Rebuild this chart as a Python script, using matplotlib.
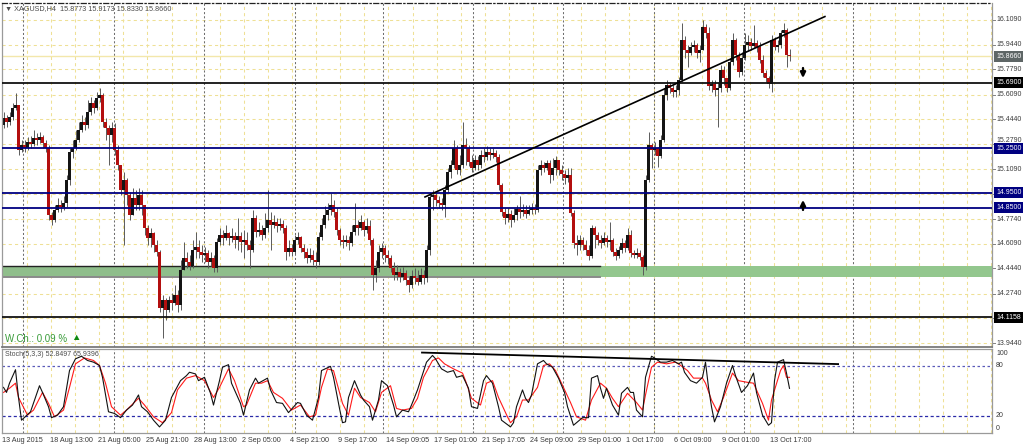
import matplotlib
matplotlib.use("Agg")
import matplotlib.pyplot as plt
from matplotlib.transforms import blended_transform_factory as blend

plt.rcParams['font.family'] = ['Liberation Sans', 'DejaVu Sans']

# ---------------- data ----------------
title_text = "\u25bc XAGUSD,H4  15.8773 15.9173 15.8330 15.8660"
stoch_text = "Stoch(5,3,3) 52.8497 65.9396"
wch_text = "W.Ch.: 0.09 %"

first_open = 15.405
closes = [
    15.452, 15.425, 15.459, 15.519, 15.539, 15.238, 15.271, 15.251, 15.291, 15.278,
    15.318, 15.305, 15.325, 15.285, 15.251, 14.802, 14.769, 14.836, 14.869, 14.856,
    14.882, 15.037, 15.224, 15.251, 15.305, 15.372, 15.425, 15.405, 15.492, 15.553,
    15.519, 15.586, 15.606, 15.425, 15.385, 15.338, 15.385, 15.238, 15.137, 14.970,
    15.037, 14.936, 14.802, 14.916, 14.869, 14.936, 14.869, 14.715, 14.648, 14.681,
    14.601, 14.554, 14.179, 14.232, 14.165, 14.232, 14.212, 14.266, 14.199, 14.434,
    14.514, 14.487, 14.460, 14.568, 14.588, 14.554, 14.534, 14.547, 14.487, 14.514,
    14.447, 14.621, 14.668, 14.648, 14.681, 14.648, 14.661, 14.635, 14.661, 14.621,
    14.635, 14.601, 14.568, 14.782, 14.688, 14.702, 14.668, 14.715, 14.769, 14.735,
    14.755, 14.728, 14.742, 14.715, 14.554, 14.581, 14.554, 14.635, 14.655, 14.581,
    14.554, 14.514, 14.534, 14.501, 14.487, 14.655, 14.735, 14.802, 14.836, 14.869,
    14.822, 14.702, 14.635, 14.621, 14.635, 14.614, 14.688, 14.735, 14.715, 14.755,
    14.702, 14.728, 14.635, 14.400, 14.447, 14.554, 14.581, 14.534, 14.514, 14.447,
    14.400, 14.420, 14.387, 14.413, 14.366, 14.333, 14.393, 14.380, 14.353, 14.400,
    14.380, 14.568, 14.923, 14.936, 14.903, 14.882, 14.869, 14.970, 15.090, 15.137,
    15.251, 15.104, 15.137, 15.271, 15.251, 15.157, 15.117, 15.171, 15.137, 15.204,
    15.191, 15.224, 15.204, 15.218, 15.191, 15.003, 14.822, 14.782, 14.809, 14.769,
    14.802, 14.842, 14.822, 14.836, 14.809, 14.836, 14.849, 14.836, 15.104, 15.137,
    15.117, 15.151, 15.070, 15.117, 15.171, 15.104, 15.077, 15.050, 15.070, 14.816,
    14.614, 14.601, 14.635, 14.601, 14.568, 14.527, 14.715, 14.668, 14.635, 14.614,
    14.648, 14.621, 14.635, 14.554, 14.527, 14.568, 14.614, 14.581, 14.668, 14.547,
    14.534, 14.547, 14.521, 14.454, 15.037, 15.271, 15.238, 15.251, 15.198, 15.305,
    15.606, 15.673, 15.653, 15.626, 15.640, 15.707, 15.975, 15.908, 15.888, 15.928,
    15.941, 15.888, 15.908, 16.062, 16.022, 15.667, 15.680, 15.640, 15.653, 15.774,
    15.720, 15.653, 15.827, 15.975, 15.874, 15.760, 15.854, 15.941, 15.962, 15.935,
    15.955, 15.928, 15.841, 15.754, 15.720, 15.680, 15.975, 15.928, 15.941, 16.022,
    16.042, 15.8773, 15.866]
highs = [
    15.492, 15.472, 15.492, 15.553, 15.620, 15.539, 15.305, 15.305, 15.325, 15.332,
    15.372, 15.352, 15.358, 15.338, 15.305, 15.271, 14.822, 14.869, 14.916, 14.903,
    14.929, 15.070, 15.251, 15.305, 15.372, 15.425, 15.472, 15.459, 15.573, 15.593,
    15.573, 15.626, 15.653, 15.620, 15.452, 15.405, 15.425, 15.419, 15.271, 15.137,
    15.090, 15.050, 14.956, 14.983, 14.970, 14.983, 14.970, 14.869, 14.735, 14.715,
    14.688, 14.635, 14.568, 14.266, 14.246, 14.259, 14.279, 14.333, 14.299, 14.501,
    14.621, 14.554, 14.534, 14.635, 14.688, 14.635, 14.601, 14.588, 14.568, 14.554,
    14.534, 14.648, 14.715, 14.702, 14.735, 14.688, 14.715, 14.688, 14.782, 14.688,
    14.702, 14.688, 14.635, 14.836, 14.802, 14.755, 14.735, 14.816, 14.970, 14.822,
    14.802, 14.782, 14.782, 14.769, 14.735, 14.635, 14.608, 14.668, 14.688, 14.661,
    14.608, 14.581, 14.581, 14.568, 14.554, 14.688, 14.782, 14.862, 14.882, 14.950,
    14.903, 14.849, 14.715, 14.668, 14.668, 14.661, 14.735, 14.882, 14.769, 14.802,
    14.769, 14.782, 14.769, 14.648, 14.501, 14.601, 14.614, 14.601, 14.568, 14.534,
    14.487, 14.467, 14.447, 14.454, 14.434, 14.393, 14.434, 14.447, 14.434, 14.447,
    14.434, 14.601, 14.956, 14.970, 14.950, 14.929, 14.916, 15.003, 15.117, 15.171,
    15.305, 15.271, 15.204, 15.425, 15.318, 15.271, 15.204, 15.204, 15.198, 15.238,
    15.251, 15.265, 15.251, 15.251, 15.238, 15.211, 15.017, 14.849, 14.849, 14.836,
    14.849, 14.869, 14.929, 14.876, 14.869, 14.869, 14.882, 14.876, 15.137, 15.171,
    15.157, 15.171, 15.171, 15.184, 15.198, 15.171, 15.137, 15.104, 15.117, 15.117,
    14.836, 14.668, 14.668, 14.655, 14.635, 14.601, 14.735, 14.728, 14.688, 14.668,
    14.688, 14.668, 14.755, 14.648, 14.581, 14.594, 14.648, 14.635, 14.715, 14.702,
    14.568, 14.581, 14.568, 14.534, 15.070, 15.358, 15.285, 15.291, 15.258, 15.338,
    15.653, 15.707, 15.693, 15.673, 15.673, 15.727, 16.089, 16.002, 15.941, 15.962,
    15.975, 15.955, 15.941, 16.109, 16.082, 16.062, 15.707, 15.707, 15.693, 15.807,
    15.801, 15.720, 15.854, 16.022, 15.988, 15.894, 15.894, 16.022, 16.008, 15.988,
    16.075, 15.975, 15.962, 15.874, 15.774, 15.734, 16.008, 15.995, 15.975, 16.042,
    16.089, 16.055, 15.9173]
lows = [
    15.385, 15.392, 15.405, 15.439, 15.506, 15.204, 15.224, 15.224, 15.238, 15.251,
    15.265, 15.271, 15.285, 15.251, 15.224, 14.769, 14.735, 14.755, 14.822, 14.822,
    14.836, 14.856, 15.003, 15.184, 15.238, 15.291, 15.358, 15.372, 15.385, 15.472,
    15.486, 15.506, 15.559, 15.392, 15.305, 15.137, 15.291, 15.204, 15.104, 14.936,
    14.601, 14.869, 14.769, 14.802, 14.836, 14.836, 14.802, 14.668, 14.601, 14.588,
    14.554, 14.527, 14.152, 13.978, 14.098, 14.152, 14.165, 14.199, 14.152, 14.165,
    14.434, 14.447, 14.434, 14.447, 14.514, 14.514, 14.487, 14.487, 14.447, 14.460,
    14.420, 14.420, 14.601, 14.601, 14.635, 14.601, 14.621, 14.581, 14.568, 14.554,
    14.514, 14.568, 14.447, 14.554, 14.655, 14.661, 14.635, 14.648, 14.688, 14.568,
    14.715, 14.688, 14.702, 14.681, 14.501, 14.527, 14.527, 14.541, 14.608, 14.554,
    14.514, 14.480, 14.487, 14.467, 14.447, 14.467, 14.635, 14.715, 14.769, 14.802,
    14.789, 14.668, 14.601, 14.581, 14.594, 14.568, 14.594, 14.668, 14.668, 14.702,
    14.661, 14.681, 14.601, 14.299, 14.353, 14.420, 14.514, 14.487, 14.474, 14.420,
    14.366, 14.366, 14.353, 14.366, 14.333, 14.286, 14.313, 14.340, 14.333, 14.340,
    14.340, 14.353, 14.534, 14.836, 14.862, 14.849, 14.836, 14.789, 14.956, 15.050,
    15.117, 15.077, 15.070, 15.117, 15.137, 15.131, 15.090, 15.104, 15.104, 15.117,
    15.157, 15.171, 15.171, 15.184, 15.157, 14.970, 14.795, 14.742, 14.755, 14.722,
    14.755, 14.769, 14.782, 14.795, 14.782, 14.802, 14.809, 14.809, 14.822, 15.070,
    15.090, 15.104, 15.017, 15.037, 15.070, 15.070, 15.037, 15.010, 15.023, 14.795,
    14.581, 14.534, 14.568, 14.568, 14.534, 14.501, 14.514, 14.581, 14.601, 14.581,
    14.601, 14.588, 14.568, 14.527, 14.501, 14.514, 14.547, 14.554, 14.568, 14.521,
    14.514, 14.514, 14.501, 14.400, 14.434, 15.023, 15.117, 15.204, 15.124, 15.184,
    15.291, 15.573, 15.620, 15.593, 15.593, 15.606, 15.693, 15.854, 15.794, 15.874,
    15.894, 15.854, 15.827, 15.908, 15.988, 15.640, 15.626, 15.600, 15.392, 15.626,
    15.673, 15.626, 15.640, 15.807, 15.841, 15.727, 15.740, 15.841, 15.908, 15.908,
    15.921, 15.894, 15.821, 15.727, 15.693, 15.653, 15.626, 15.908, 15.894, 15.921,
    15.995, 15.794, 15.833]

# Stochastic (bar index, value)
stoch_main = [
    (0, 54), (1, 48), (2, 59), (4, 75), (5, 42), (6, 15), (9, 25), (12, 56), (13, 48),
    (15, 31), (16, 18), (18, 21), (20, 31), (22, 74), (24, 88), (26, 91), (28, 86),
    (30, 84), (32, 80), (33, 66), (35, 25), (37, 23), (39, 18), (41, 27), (43, 33),
    (45, 45), (46, 31), (48, 25), (50, 15), (52, 7), (54, 15), (56, 42), (59, 62),
    (61, 68), (62, 72), (64, 70), (65, 62), (67, 66), (69, 47), (70, 33), (72, 62),
    (73, 78), (75, 81), (76, 59), (79, 35), (80, 21), (82, 51), (84, 65), (85, 59),
    (88, 65), (89, 51), (91, 36), (93, 35), (95, 24), (98, 36), (99, 35), (101, 21),
    (103, 15), (105, 42), (106, 74), (109, 79), (110, 66), (112, 29), (113, 12),
    (114, 13), (115, 42), (117, 62), (119, 45), (120, 39), (122, 31), (123, 15),
    (125, 39), (126, 62), (128, 56), (130, 33), (131, 19), (133, 27), (135, 25),
    (136, 33), (138, 51), (139, 62), (141, 84), (143, 92), (144, 88), (146, 76),
    (148, 72), (150, 74), (151, 66), (153, 68), (155, 53), (156, 31), (158, 29),
    (160, 62), (161, 68), (163, 59), (165, 31), (166, 15), (169, 7), (170, 12),
    (171, 31), (173, 51), (174, 41), (175, 36), (176, 45), (178, 82), (180, 86),
    (181, 82), (183, 78), (185, 65), (187, 48), (188, 31), (190, 9), (193, 18),
    (195, 18), (196, 65), (198, 68), (199, 53), (200, 41), (201, 53), (203, 33),
    (205, 21), (206, 47), (208, 54), (209, 48), (210, 48), (211, 27), (213, 19),
    (214, 66), (216, 91), (217, 89), (219, 84), (221, 84), (223, 86), (225, 82),
    (226, 84), (227, 72), (229, 62), (231, 59), (233, 66), (234, 84), (235, 54),
    (236, 31), (237, 13), (239, 31), (241, 59), (243, 80), (244, 68), (246, 48),
    (248, 56), (250, 71), (251, 48), (253, 21), (255, 9), (256, 12), (257, 62),
    (258, 84), (260, 87), (261, 71), (262, 52.85)]
stoch_signal = [
    (0, 48), (2, 53), (4, 59), (5, 42), (8, 21), (10, 27), (13, 48), (15, 35), (17, 19),
    (20, 27), (22, 54), (24, 82), (27, 89), (30, 86), (32, 80), (34, 59), (36, 31),
    (39, 21), (41, 27), (45, 41), (47, 33), (50, 19), (53, 12), (56, 24), (58, 51),
    (61, 65), (64, 68), (67, 62), (70, 42), (72, 54), (75, 76), (77, 62), (80, 31),
    (81, 33), (84, 59), (86, 59), (88, 62), (90, 48), (93, 41), (96, 27), (99, 33),
    (102, 19), (104, 21), (106, 54), (108, 76), (110, 74), (113, 35), (115, 21),
    (117, 53), (119, 42), (122, 36), (124, 25), (126, 48), (129, 56), (131, 29),
    (133, 27), (136, 29), (138, 41), (140, 66), (143, 86), (145, 89), (147, 82),
    (150, 76), (153, 71), (154, 62), (156, 41), (159, 33), (161, 59), (163, 62),
    (165, 42), (168, 19), (169, 12), (171, 19), (173, 39), (175, 39), (178, 54),
    (180, 80), (182, 82), (184, 74), (186, 59), (189, 36), (191, 19), (194, 15),
    (196, 39), (199, 59), (201, 53), (203, 41), (205, 31), (208, 47), (211, 36),
    (213, 27), (214, 45), (216, 78), (218, 84), (221, 82), (224, 84), (225, 82),
    (228, 74), (230, 65), (233, 65), (234, 59), (236, 39), (238, 25), (240, 42),
    (243, 71), (245, 62), (248, 60), (250, 59), (253, 35), (255, 15), (256, 39),
    (259, 74), (260, 80), (261, 66), (262, 65.94)]

price_grid = [16.109, 15.944, 15.779, 15.609, 15.444, 15.279, 15.109, 14.944,
              14.774, 14.609, 14.444, 14.274, 14.109, 13.944]
# labels shown on the right scale (those hidden behind line boxes are omitted)
scale_labels = [(16.109, "16.1090"), (15.944, "15.9440"), (15.779, "15.7790"),
                (15.609, "15.6090"), (15.444, "15.4440"), (15.279, "15.2790"),
                (15.109, "15.1090"), (14.774, "14.7740"), (14.609, "14.6090"),
                (14.444, "14.4440"), (14.274, "14.2740"), (13.944, "13.9440")]
black_levels = [15.69, 14.1158]
navy_levels = [15.25, 14.95, 14.85]
boxed_labels = [(15.866, "15.8660", "#5e6666"), (15.69, "15.6900", "#000000"),
                (15.25, "15.2500", "#000080"), (14.95, "14.9500", "#000080"),
                (14.85, "14.8500", "#000080"), (14.1158, "14.1158", "#000000")]
current_price = 15.866
zone_low, zone_high = 14.387, 14.460
zone_split_bar = 198.8
trend_bars = [140.5, 273.8]
trend_prices = [14.923, 16.132]
stoch_trend_bars = [139.5, 278.2]
stoch_trend_vals = [95.4, 81.7]
week_separators = [6.5, 36.8, 66.8, 97.2, 126.5, 156.5, 186.5, 216.8, 246.8, 283.2]
time_label_bars = [0, 16, 32, 48, 64, 80, 96, 112, 128, 144, 160, 176, 192, 208, 224, 240, 256]
time_labels = ["13 Aug 2015", "18 Aug 13:00", "21 Aug 05:00", "25 Aug 21:00", "28 Aug 13:00",
               "2 Sep 05:00", "4 Sep 21:00", "9 Sep 17:00", "14 Sep 09:05", "17 Sep 01:00",
               "21 Sep 17:05", "24 Sep 09:00", "29 Sep 01:00", "1 Oct 17:00", "6 Oct 09:00",
               "9 Oct 01:00", "13 Oct 17:00"]
stoch_levels = [80, 20]
arrow_bar = 266.5
down_arrow = (15.787, 15.720)
up_arrow = (14.836, 14.903)

# ---------------- layout ----------------
W, H = 1024, 447
fig = plt.figure(figsize=(W / 100, H / 100), dpi=100)
fig.patch.set_facecolor("white")


def frame(x0, y0, x1, y1):
    return [x0 / W, 1 - y1 / H, (x1 - x0) / W, (y1 - y0) / H]


ax = fig.add_axes(frame(2, 3, 992, 347))
ax2 = fig.add_axes(frame(2, 348.7, 992, 432.8))
XMIN, XMAX = -0.5, 329.5
for a in (ax, ax2):
    a.set_xlim(XMIN, XMAX)
    a.set_xticks([])
    a.set_yticks([])
    a.set_facecolor("white")
ax.set_ylim(13.9173, 16.2229)
ax2.set_ylim(0, 100)

YEL = "#efe095"
GRAYSEP = "#6e6e6e"
# grid
for p in price_grid:
    ax.axhline(p, color=YEL, lw=0.75, ls=(0, (3, 3)), zorder=0.5)
k = 0
while True:
    t = 7.83 + 8.033 * k
    if t > XMAX:
        break
    for a in (ax, ax2):
        a.axvline(t, color=YEL, lw=0.75, ls=(0, (3, 3)), zorder=0.5)
    k += 1
for t in week_separators:
    for a in (ax, ax2):
        a.axvline(t, color=GRAYSEP, lw=0.75, ls=(0, (2, 2)), zorder=0.6)

# spines
for a in (ax, ax2):
    for s in a.spines.values():
        s.set_color("#9a9a9a")
        s.set_linewidth(0.9)
ax.spines["top"].set_color("#222222")
ax.spines["top"].set_linestyle((0, (4, 2, 1, 2)))
ax.spines["bottom"].set_color("#7a7a7a")
ax.spines["bottom"].set_linewidth(1.3)

# green zone
ax.fill_between([XMIN, zone_split_bar], zone_low, zone_high, color="#8fbe8b", lw=0, zorder=1)
ax.fill_between([zone_split_bar, XMAX], zone_low, zone_high, color="#93c78e", lw=0, zorder=1)
ax.plot([XMIN, zone_split_bar], [zone_high, zone_high], color="#222222", lw=1.0, zorder=1.1)
ax.plot([XMIN, zone_split_bar], [zone_low, zone_low], color="#8a8a8a", lw=1.4, zorder=1.1)

# current price line
ax.axhline(current_price, color="#f3e7ab", lw=1.0, zorder=1)

# candles
opens = [first_open] + closes[:-1]
n = len(closes)
for i in range(n):
    o, c = opens[i], closes[i]
    hi = max(highs[i], o, c)
    lo = min(lows[i], o, c)
    ax.vlines(i, lo, hi, color="#5a5a5a", lw=0.7, zorder=2)
    up = c >= o
    body_lo = min(o, c)
    h = max(abs(c - o), 0.004)
    ax.bar(i, h, bottom=body_lo, width=0.75, color="#141414" if up else "#b30f0f",
           edgecolor="none", zorder=2.5)

# levels
for p in black_levels:
    ax.axhline(p, color="#111111", lw=1.3, zorder=3)
for p in navy_levels:
    ax.axhline(p, color="#000080", lw=1.3, zorder=3)

# trend line
ax.plot(trend_bars, trend_prices, color="black", lw=1.2, zorder=3.5)

# arrows
for tail, tip in (down_arrow, up_arrow):
    ax.annotate("", xy=(arrow_bar, tip), xytext=(arrow_bar, tail),
                arrowprops=dict(arrowstyle="-|>", color="black", lw=1.7, mutation_scale=7.5,
                                shrinkA=0, shrinkB=0), zorder=4)

# right price scale
tr = blend(ax.transAxes, ax.transData)
lx = 1.0 + 4.0 / 990
for p in price_grid:
    ax.plot([1.0, 1.0 + 3.0 / 990], [p, p], transform=tr, color="#808080", lw=0.7,
            clip_on=False)
for p, lab in scale_labels:
    # the 15.2790 label sits just above the 15.2500 box, as in the original
    va = "bottom" if lab == "15.2790" else "center"
    yy = p - 0.004 if lab == "15.2790" else p
    ax.text(lx, yy, lab, transform=tr, fontsize=5.0, color="#3a3a3a", va=va,
            ha="left", clip_on=False)
for p, lab, bg in boxed_labels:
    ax.text(lx, p, lab, transform=tr, fontsize=5.0, color="white", va="center", ha="left",
            clip_on=False, zorder=5,
            bbox=dict(boxstyle="square,pad=0.28", fc=bg, ec="none"))

# stochastic
ax2.axhline(stoch_levels[0], color="#5a5ab8", lw=0.9, ls=(0, (2, 2)), zorder=1)
ax2.axhline(stoch_levels[1], color="#2a2aa8", lw=0.9, ls=(0, (2.5, 2)), zorder=1)
sm_x = [p[0] for p in stoch_main]
sm_y = [p[1] for p in stoch_main]
ss_x = [p[0] for p in stoch_signal]
ss_y = [p[1] for p in stoch_signal]
ax2.plot(ss_x, ss_y, color="#ff1a1a", lw=0.8, zorder=2)
ax2.plot(sm_x, sm_y, color="#111111", lw=0.8, zorder=2.2)
ax2.plot(stoch_trend_bars, stoch_trend_vals, color="black", lw=1.3, zorder=3)

tr2 = blend(ax2.transAxes, ax2.transData)
for v, lab in [(94.8, "100"), (80, "80"), (20, "20"), (5.7, "0")]:
    ax2.text(lx, v, lab, transform=tr2, fontsize=5.0, color="#3a3a3a", va="center",
             ha="left", clip_on=False)

# time labels
trt = blend(ax2.transData, fig.transFigure)
for b, lab in zip(time_label_bars, time_labels):
    ax2.text(b - 0.5, 1 - 441 / H, lab, transform=trt, fontsize=5.2, color="#3a3a3a",
             va="center", ha="left", clip_on=False)

# texts
fig.text(5 / W, 1 - 8.5 / H, title_text, fontsize=5.2, color="#4a4a4a", va="center", ha="left")
fig.text(5 / W, 1 - 354.5 / H, stoch_text, fontsize=5.0, color="#4a4a4a", va="center", ha="left")
fig.text(5 / W, 1 - 338.5 / H, wch_text, fontsize=7.0, color="#3a9c3a", va="center", ha="left")
fig.text(71 / W, 1 - 338 / H, "\u25b2", fontsize=6.8, color="#108a10", va="center", ha="left")

fig.savefig("out.png", dpi=100, facecolor="white")
